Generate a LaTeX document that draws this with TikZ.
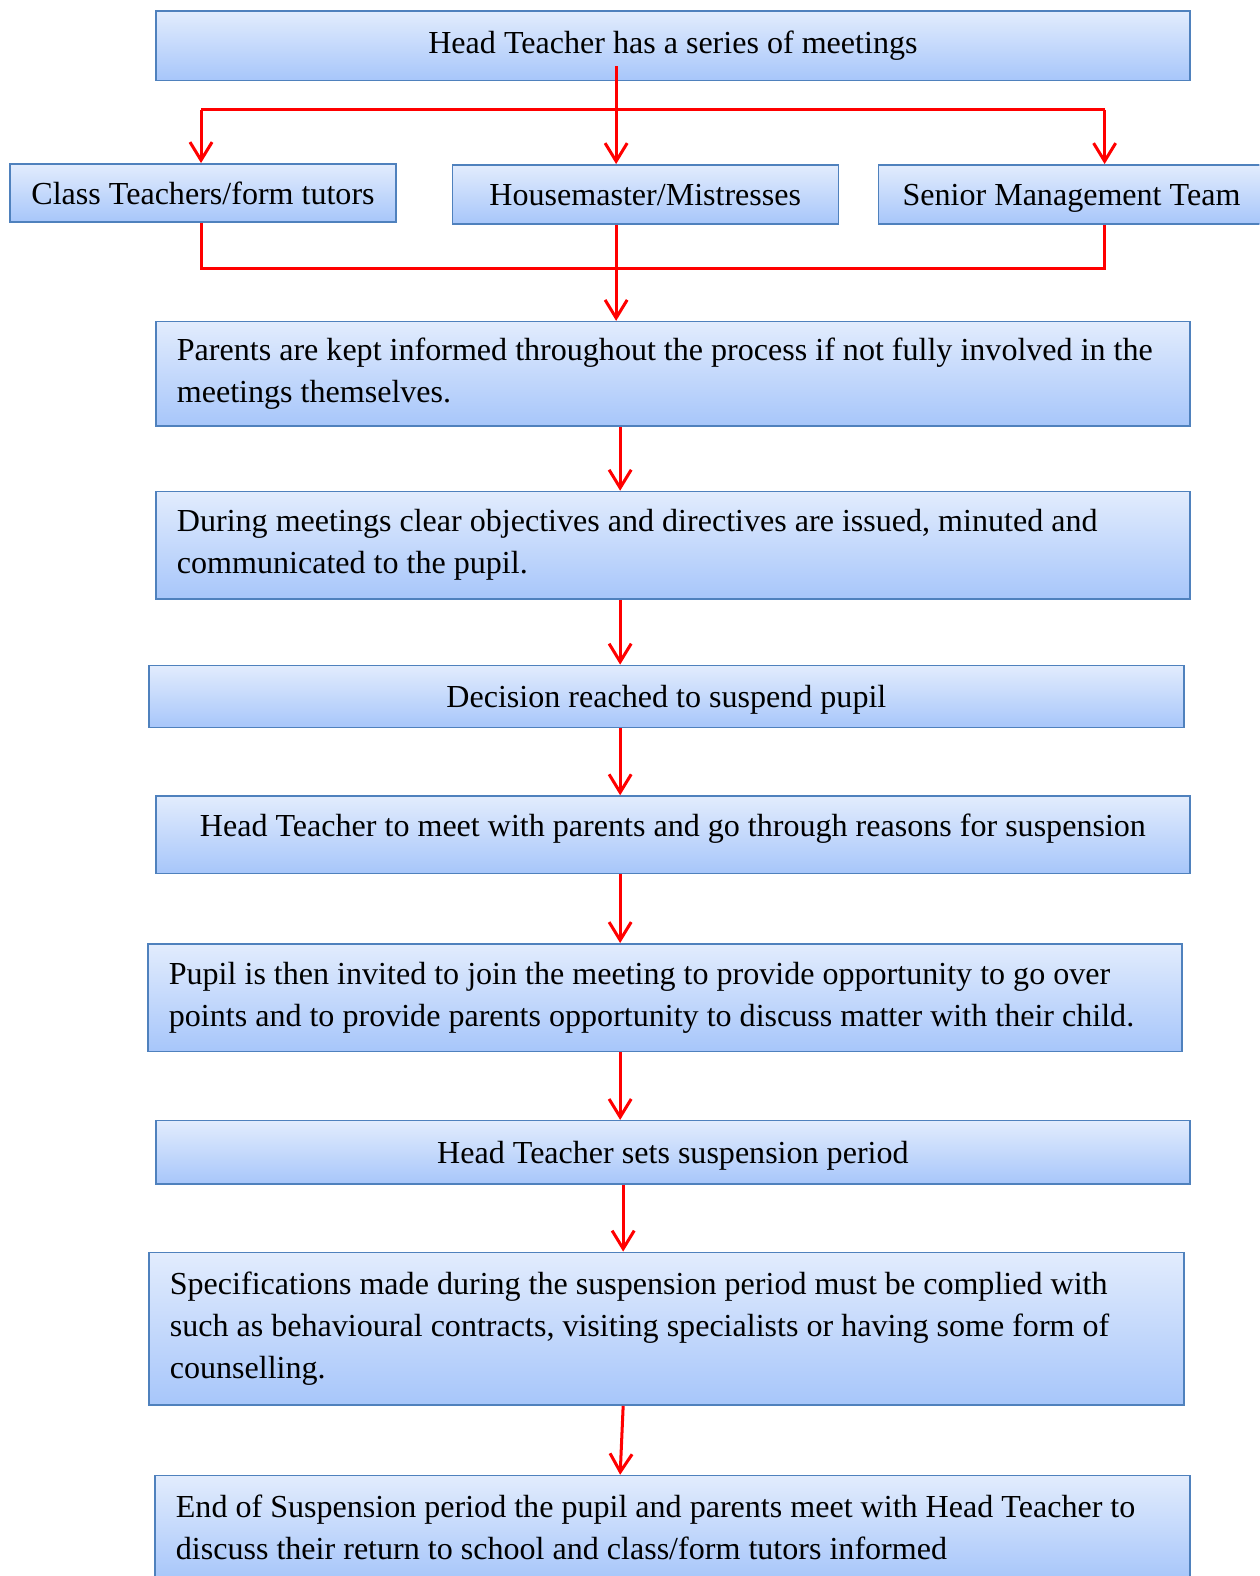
\documentclass[tikz,border=0pt]{standalone}
\usepackage{fontspec}
\setmainfont{Liberation Serif}
\usetikzlibrary{arrows.meta}
\definecolor{boxtop}{HTML}{E2ECFD}
\definecolor{boxbot}{HTML}{A7C6FA}
\definecolor{boxedge}{HTML}{4F81BD}
\definecolor{conred}{HTML}{FF0000}
\begin{document}
\begin{tikzpicture}[x=1pt,y=-1pt,
  box/.style={draw=boxedge, line width=1.5pt, top color=boxtop, bottom color=boxbot,
    inner xsep=21pt, inner ysep=0pt, font=\fontsize{31.9}{41.8}\selectfont, anchor=center},
  single/.style={box, text height=25pt, text depth=3pt},
  wide/.style={single, minimum width=1029pt},
  small/.style={single, minimum width=384pt},
  multi/.style={box, minimum width=1029pt, text width=987pt, align=flush left},
  conn/.style={draw=conred, line width=3pt, line join=miter, -{Straight Barb[length=18pt,width=22pt,line width=3pt]}},
  link/.style={draw=conred, line width=3pt, line join=miter}]
\useasboundingbox (0,0) rectangle (1253,1568);
\clip (0,0) rectangle (1253,1568);

\node[wide, minimum height=69pt, text height=22pt, text depth=7pt] (b1) at (669.5,45.5) {Head Teacher has a series of meetings};
\node[small, minimum height=58pt] (ct) at (202,192) {Class Teachers/form tutors};
\node[small, minimum height=59pt] (hm) at (642,193.5) {Housemaster/Mistresses};
\node[small, minimum height=59pt] (sm) at (1066,193.5) {Senior Management Team};
\node[multi, minimum height=104pt] (b3) at (669.5,372) {Parents are kept informed throughout the process if not fully involved in the\\meetings themselves.};
\node[multi, minimum height=107pt] (b4) at (669.5,542.5) {During meetings clear objectives and directives are issued, minuted and\\communicated to the pupil.};
\node[single, minimum width=1030pt, minimum height=62pt] (b5) at (663,693) {Decision reached to suspend pupil};
\node[wide, minimum height=77pt, text depth=22pt] (b6) at (669.5,830.5) {Head Teacher to meet with parents and go through reasons for suspension};
\node[multi, minimum height=107pt] (b7) at (661.5,992.5) {Pupil is then invited to join the meeting to provide opportunity to go over\\points and to provide parents opportunity to discuss matter with their child.};
\node[wide, minimum height=63pt] (b8) at (669.5,1146.5) {Head Teacher sets suspension period};
\node[multi, minimum width=1030pt, text width=988pt, minimum height=152pt] (b9) at (663,1322) {Specifications made during the suspension period must be complied with\\such as behavioural contracts, visiting specialists or having some form of\\counselling.};
\node[multi, minimum width=1030pt, text width=988pt, minimum height=104pt] (b10) at (669,1520) {End of Suspension period the pupil and parents meet with Head Teacher to\\discuss their return to school and class/form tutors informed};

\coordinate (s1) at (613,66);
\coordinate (jL) at (200,109);
\coordinate (jR) at (1099,109);
\coordinate (mL) at (200,267);
\coordinate (mR) at (1099,267);
\coordinate (ax) at (617,0);
\coordinate (ax2) at (620,0);

\draw[link] (jL) -- (jR);
\draw[conn] (s1) -- (s1 |- hm.north);
\draw[conn] (jL) -- (jL |- ct.north);
\draw[conn] (jR) -- (jR |- sm.north);

\draw[link] (ct.south -| mL) -- (mL) -- (mR) -- (sm.south -| mR);
\draw[conn] (hm.south -| s1) -- (b3.north -| s1);

\draw[conn] (b3.south -| ax) -- (b4.north -| ax);
\draw[conn] (b4.south -| ax) -- (b5.north -| ax);
\draw[conn] (b5.south -| ax) -- (b6.north -| ax);
\draw[conn] (b6.south -| ax) -- (b7.north -| ax);
\draw[conn] (b7.south -| ax) -- (b8.north -| ax);
\draw[conn] (b8.south -| ax2) -- (b9.north -| ax2);
\draw[conn] (b9.south -| ax2) -- (b10.north -| ax);
\end{tikzpicture}
\end{document}
